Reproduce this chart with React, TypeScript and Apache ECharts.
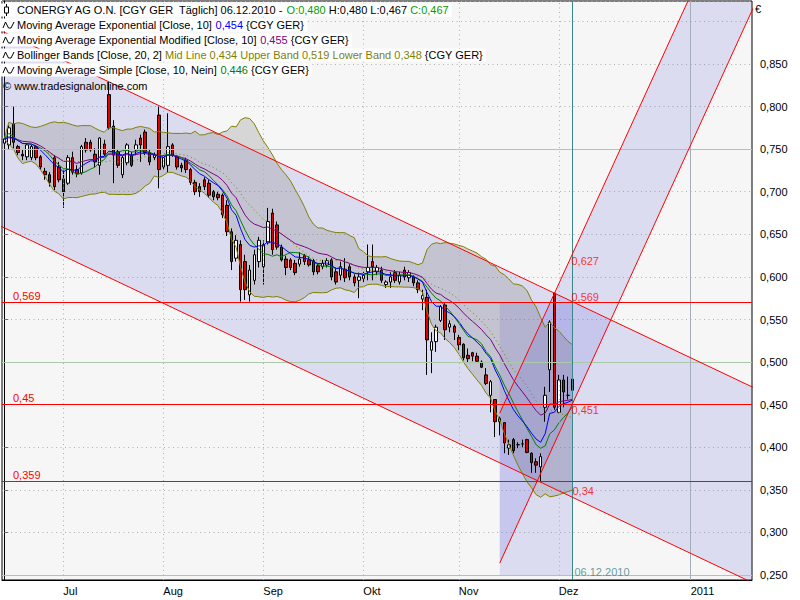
import React, { useEffect, useRef } from "react";
import * as echarts from "echarts";

// ---------------- data ----------------
const FIRST_DAY = "2010-06-14";
const LAST_TRADING_DAY = "2010-12-06";
const AXIS_END_DAY = "2011-01-14";

const openPrices = [
  0.757, 0.755, 0.78, 0.753, 0.744, 0.741, 0.74, 0.753, 0.741, 0.724,
  0.72, 0.74, 0.729, 0.715, 0.71, 0.74, 0.726, 0.722, 0.758, 0.758,
  0.744, 0.731, 0.756, 0.814, 0.777, 0.747, 0.72, 0.734, 0.743, 0.749,
  0.763, 0.77, 0.746, 0.74, 0.79, 0.729, 0.731, 0.755, 0.741, 0.731,
  0.737, 0.726, 0.711, 0.706, 0.714, 0.71, 0.7, 0.697, 0.696, 0.684,
  0.653, 0.622, 0.638, 0.618, 0.579, 0.596, 0.618, 0.612, 0.64, 0.675,
  0.661, 0.635, 0.621, 0.62, 0.616, 0.615, 0.625, 0.62, 0.619, 0.613,
  0.612, 0.614, 0.62, 0.606, 0.602, 0.609, 0.612, 0.6, 0.596, 0.598,
  0.606, 0.618, 0.606, 0.608, 0.591, 0.594, 0.605, 0.594, 0.608, 0.599,
  0.6, 0.593, 0.574, 0.576, 0.514, 0.524, 0.549, 0.567, 0.541, 0.542,
  0.529, 0.521, 0.508, 0.511, 0.507, 0.5, 0.485, 0.461, 0.456, 0.43,
  0.429, 0.399, 0.409, 0.403, 0.404, 0.409, 0.393, 0.383, 0.377, 0.447,
  0.491, 0.581, 0.441, 0.479, 0.461, 0.48,
];
const closePrices = [
  0.762, 0.775, 0.758, 0.746, 0.742, 0.755, 0.753, 0.74, 0.729, 0.72,
  0.711, 0.706, 0.714, 0.7, 0.74, 0.723, 0.721, 0.753, 0.749, 0.749,
  0.735, 0.763, 0.744, 0.775, 0.743, 0.731, 0.74, 0.755, 0.731, 0.755,
  0.755, 0.746, 0.735, 0.743, 0.726, 0.74, 0.753, 0.743, 0.729, 0.728,
  0.726, 0.711, 0.7, 0.7, 0.706, 0.696, 0.694, 0.693, 0.673, 0.653,
  0.618, 0.643, 0.585, 0.585, 0.608, 0.626, 0.643, 0.638, 0.665, 0.632,
  0.635, 0.62, 0.611, 0.611, 0.605, 0.621, 0.618, 0.614, 0.606, 0.606,
  0.616, 0.619, 0.6, 0.594, 0.612, 0.599, 0.6, 0.593, 0.6, 0.602,
  0.611, 0.612, 0.611, 0.596, 0.594, 0.6, 0.596, 0.602, 0.6, 0.605,
  0.593, 0.585, 0.578, 0.526, 0.524, 0.541, 0.565, 0.538, 0.545, 0.535,
  0.52, 0.505, 0.504, 0.507, 0.501, 0.494, 0.475, 0.477, 0.43, 0.434,
  0.405, 0.403, 0.396, 0.403, 0.404, 0.394, 0.382, 0.379, 0.389, 0.461,
  0.547, 0.447, 0.479, 0.465, 0.461, 0.467,
];
const highPrices = [
  0.767, 0.778, 0.8, 0.755, 0.749, 0.757, 0.755, 0.755, 0.743, 0.728,
  0.723, 0.743, 0.735, 0.726, 0.743, 0.747, 0.731, 0.755, 0.763, 0.761,
  0.751, 0.764, 0.761, 0.829, 0.784, 0.749, 0.742, 0.757, 0.747, 0.761,
  0.767, 0.773, 0.749, 0.746, 0.8, 0.743, 0.792, 0.757, 0.743, 0.734,
  0.74, 0.728, 0.714, 0.71, 0.717, 0.714, 0.702, 0.7, 0.698, 0.69,
  0.657, 0.649, 0.643, 0.626, 0.614, 0.632, 0.647, 0.643, 0.681, 0.68,
  0.665, 0.638, 0.625, 0.622, 0.62, 0.629, 0.627, 0.624, 0.621, 0.616,
  0.62, 0.622, 0.622, 0.611, 0.618, 0.622, 0.615, 0.603, 0.605, 0.606,
  0.638, 0.638, 0.614, 0.612, 0.596, 0.606, 0.608, 0.606, 0.612, 0.608,
  0.602, 0.596, 0.585, 0.585, 0.535, 0.544, 0.567, 0.569, 0.549, 0.544,
  0.532, 0.522, 0.516, 0.512, 0.511, 0.502, 0.493, 0.479, 0.456, 0.436,
  0.429, 0.409, 0.411, 0.406, 0.409, 0.41, 0.394, 0.387, 0.393, 0.471,
  0.549, 0.581, 0.485, 0.485, 0.483, 0.48,
];
const lowPrices = [
  0.751, 0.749, 0.751, 0.743, 0.737, 0.737, 0.737, 0.737, 0.726, 0.714,
  0.706, 0.702, 0.711, 0.681, 0.708, 0.72, 0.717, 0.72, 0.746, 0.747,
  0.729, 0.72, 0.742, 0.773, 0.71, 0.728, 0.716, 0.731, 0.729, 0.743,
  0.735, 0.743, 0.731, 0.737, 0.704, 0.726, 0.722, 0.741, 0.726, 0.723,
  0.722, 0.708, 0.696, 0.694, 0.702, 0.693, 0.69, 0.69, 0.669, 0.648,
  0.608, 0.618, 0.571, 0.573, 0.571, 0.591, 0.611, 0.591, 0.638, 0.626,
  0.632, 0.618, 0.602, 0.608, 0.602, 0.612, 0.614, 0.612, 0.602, 0.603,
  0.609, 0.611, 0.596, 0.591, 0.596, 0.594, 0.596, 0.589, 0.575, 0.594,
  0.596, 0.596, 0.602, 0.593, 0.587, 0.587, 0.593, 0.591, 0.596, 0.594,
  0.589, 0.581, 0.561, 0.485, 0.487, 0.512, 0.547, 0.526, 0.535, 0.526,
  0.514, 0.502, 0.5, 0.501, 0.5, 0.493, 0.473, 0.441, 0.412, 0.414,
  0.393, 0.391, 0.393, 0.399, 0.4, 0.393, 0.37, 0.37, 0.359, 0.43,
  0.465, 0.444, 0.44, 0.447, 0.456, 0.467,
];

const monthTicks: [string, string][] = [
  ["2010-07-01", "Jul"],
  ["2010-08-02", "Aug"],
  ["2010-09-01", "Sep"],
  ["2010-10-01", "Okt"],
  ["2010-11-01", "Nov"],
  ["2010-12-01", "Dez"],
];
const yearTick: [string, string] = ["2011-01-01", "2011"];

const yAxisMin = 0.2442;
const yAxisMax = 0.9239;
const yLabelMax = 0.85;
const horizontalLevels = [0.569, 0.45, 0.359];
const majorLevels = [0.25, 0.5, 0.75];

const downChannelTop: [string, number][] = [["2010-07-15", 0.829], ["2010-11-30", 0.581]];
const downChannelBottomAnchor: [string, number] = ["2010-11-25", 0.359];
const upChannelLeft: [string, number][] = [["2010-11-12", 0.44], ["2010-12-06", 0.627]];
const upChannelRight: [string, number][] = [["2010-11-12", 0.264], ["2010-12-06", 0.451]];
const boxFrom = "2010-11-12";
const boxTo = "2010-12-06";
const boxTop = 0.569;
const boxBottom = 0.25;
const trendValueLabels = [0.627, 0.569, 0.451, 0.34];
const currentDateLabel = "06.12.2010";

const titleText = "CONERGY AG O.N. [CGY GER  Täglich] 06.12.2010 - ";
const ohlcOpen = "O:0,480";
const ohlcMid = " H:0,480 L:0,467 ";
const ohlcClose = "C:0,467";
const emaValueText = "0,454";
const emaModValueText = "0,455";
const bbValueText = "Mid Line 0,434 Upper Band 0,519 Lower Band 0,348";
const smaValueText = "0,446";

// ---------------- helpers ----------------
const FONT = '"Liberation Sans", Arial, sans-serif';
const iso = (d: Date) => d.toISOString().slice(0, 10);

function buildCategories(): string[] {
  const out: string[] = [];
  const d = new Date(FIRST_DAY + "T00:00:00Z");
  const last = new Date(LAST_TRADING_DAY + "T00:00:00Z").getTime();
  const end = new Date(AXIS_END_DAY + "T00:00:00Z").getTime();
  while (d.getTime() <= end) {
    const wd = d.getUTCDay();
    if (d.getTime() > last || (wd !== 0 && wd !== 6)) out.push(iso(d));
    d.setUTCDate(d.getUTCDate() + 1);
  }
  return out;
}

const categories = buildCategories();
const idxOf = (date: string) => categories.indexOf(date);

function movingAverage(arr: number[], n: number) {
  return arr.map((_, i) => {
    const w = arr.slice(Math.max(0, i - n + 1), i + 1);
    return w.reduce((a, b) => a + b, 0) / w.length;
  });
}
function expAverage(arr: number[], alpha: number) {
  let e = arr[0];
  return arr.map((v, i) => {
    e = i === 0 ? v : e + alpha * (v - e);
    return e;
  });
}
function bollinger(arr: number[], n: number, k: number) {
  const mid = movingAverage(arr, n);
  const sd = arr.map((_, i) => {
    const w = arr.slice(Math.max(0, i - n + 1), i + 1);
    const m = mid[i];
    return Math.sqrt(w.reduce((a, b) => a + (b - m) * (b - m), 0) / w.length);
  });
  return {
    mid,
    upper: mid.map((m, i) => m + k * sd[i]),
    lower: mid.map((m, i) => m - k * sd[i]),
  };
}
const fmtComma = (v: number) => String(+v.toFixed(3)).replace(".", ",");

const App: React.FC = () => {
  const ref = useRef<HTMLDivElement>(null);

  useEffect(() => {
    if (!ref.current) return;
    const chart = echarts.init(ref.current, undefined, { renderer: "svg" });

    const candleData = openPrices.map((o, i) => [o, closePrices[i], lowPrices[i], highPrices[i]]);
    const ema10 = expAverage(closePrices, 2 / 11);
    const emaMod10 = expAverage(closePrices, 1 / 10);
    const sma10 = movingAverage(closePrices, 10);
    const bb = bollinger(closePrices, 20, 2);

    const tickMap: Record<number, string> = {};
    monthTicks.forEach(([d, l]) => (tickMap[idxOf(d)] = l));
    tickMap[idxOf(yearTick[0])] = yearTick[1];

    // trend line geometry from the anchors
    const dt0 = idxOf(downChannelTop[0][0]);
    const dt1 = idxOf(downChannelTop[1][0]);
    const dSlope = (downChannelTop[1][1] - downChannelTop[0][1]) / (dt1 - dt0);
    const dTop = (x: number) => downChannelTop[0][1] + dSlope * (x - dt0);
    const dbI = idxOf(downChannelBottomAnchor[0]);
    const dBot = (x: number) => downChannelBottomAnchor[1] + dSlope * (x - dbI);

    const ul0 = idxOf(upChannelLeft[0][0]);
    const ul1 = idxOf(upChannelLeft[1][0]);
    const uSlope = (upChannelLeft[1][1] - upChannelLeft[0][1]) / (ul1 - ul0);
    const uLeft = (x: number) => upChannelLeft[0][1] + uSlope * (x - ul0);
    const ur0 = idxOf(upChannelRight[0][0]);
    const uRight = (x: number) => upChannelRight[0][1] + uSlope * (x - ur0);

    const xFar0 = -10;
    const xFar1 = categories.length + 10;
    const lastIdx = idxOf(LAST_TRADING_DAY);
    const yearIdx = idxOf(yearTick[0]);

    const polygon = (name: string, pts: number[][], fill: string, z: number) => ({
      type: "custom",
      name,
      xAxisIndex: 1,
      yAxisIndex: 0,
      clip: true,
      silent: true,
      z,
      data: [[pts[0][0], pts[0][1]]],
      renderItem: (_p: any, api: any) => ({
        type: "polygon",
        shape: { points: pts.map((p) => api.coord(p)) },
        style: { fill, stroke: "none" },
      }),
    });

    const lav = "rgba(92,92,222,0.17)";
    const bandPts: number[][] = [];
    bb.upper.forEach((v, i) => bandPts.push([i, v]));
    for (let i = bb.lower.length - 1; i >= 0; i--) bandPts.push([i, bb.lower[i]]);

    const redLine = (name: string, pts: number[][], extra: any = {}) => ({
      type: "line",
      name,
      xAxisIndex: 1,
      yAxisIndex: 0,
      data: pts,
      symbol: "none",
      silent: true,
      z: 6,
      lineStyle: { color: "#ff0000", width: 1 },
      ...extra,
    });

    const labelPos: Record<string, number[]> = {
      "0.627": [-1, 7],
      "0.569": [-1, -6],
      "0.451": [-1, 6],
      "0.34": [0, -7],
    };

    const option: any = {
      animation: false,
      backgroundColor: "#ffffff",
      textStyle: { fontFamily: FONT },
      grid: {
        left: 2,
        right: 48,
        top: 1,
        bottom: 20,
        show: true,
        backgroundColor: "#f6f6f6",
        borderColor: "#000",
        borderWidth: 1,
      },
      xAxis: [
        {
          type: "category",
          data: categories,
          boundaryGap: true,
          axisLine: { lineStyle: { color: "#000" } },
          axisTick: {
            alignWithLabel: true,
            interval: (i: number) => tickMap[i] !== undefined,
            length: 4,
            lineStyle: { color: "#555" },
          },
          axisLabel: {
            interval: (i: number) => tickMap[i] !== undefined,
            formatter: (_v: string, i: number) => tickMap[i] || "",
            align: "left",
            margin: 5,
            color: "#000",
            fontSize: 11,
            fontFamily: FONT,
          },
          splitLine: { show: false },
        },
        {
          type: "value",
          min: -0.5,
          max: categories.length - 0.5,
          show: false,
        },
      ],
      yAxis: {
        type: "value",
        position: "right",
        min: yAxisMin,
        max: yAxisMax,
        splitNumber: 13,
        axisLine: { show: true, lineStyle: { color: "#000" } },
        axisTick: { show: true, length: 4, lineStyle: { color: "#707070" } },
        axisLabel: {
          formatter: (v: number) => (v > yLabelMax + 0.001 ? "" : v.toFixed(3).replace(".", ",")),
          showMinLabel: false,
          showMaxLabel: false,
          margin: 8,
          color: "#000",
          fontSize: 11,
          fontFamily: FONT,
        },
        splitLine: { show: true, lineStyle: { color: "#b0b0b0", type: [1, 3.5], width: 1 } },
      },
      series: [
        polygon(
          "downChannel",
          [[xFar0, dTop(xFar0)], [xFar1, dTop(xFar1)], [xFar1, dBot(xFar1)], [xFar0, dBot(xFar0)]],
          lav,
          1
        ),
        polygon(
          "upChannel",
          [[ul0, uLeft(ul0)], [xFar1, uLeft(xFar1)], [xFar1, uRight(xFar1)], [ur0, uRight(ur0)]],
          lav,
          1
        ),
        polygon(
          "box",
          [[idxOf(boxFrom), boxTop], [idxOf(boxTo), boxTop], [idxOf(boxTo), boxBottom], [idxOf(boxFrom), boxBottom]],
          lav,
          1
        ),
        polygon("bollingerFill", bandPts, "rgba(120,120,120,0.25)", 1),
        {
          type: "line",
          name: "gridHelper",
          xAxisIndex: 1,
          yAxisIndex: 0,
          data: [[0, 0.5]],
          symbol: "none",
          lineStyle: { opacity: 0 },
          silent: true,
          z: 2,
          markLine: {
            silent: true,
            symbol: ["none", "none"],
            animation: false,
            label: { show: false },
            data: [
              ...majorLevels.map((v) => ({ yAxis: v, lineStyle: { color: "#a9c9a9", type: "solid", width: 1 } })),
              ...monthTicks.map(([d]) => ({
                xAxis: idxOf(d),
                lineStyle: { color: "#b0b0b0", type: [1, 3.5], width: 1 },
              })),
              { xAxis: yearIdx, lineStyle: { color: "#a4aebb", type: "solid", width: 1 } },
              { xAxis: lastIdx, lineStyle: { color: "#3b8686", type: "solid", width: 1 } },
            ],
          },
        },
        {
          type: "candlestick",
          name: "CONERGY",
          xAxisIndex: 0,
          yAxisIndex: 0,
          data: candleData,
          barWidth: 3,
          z: 3,
          itemStyle: {
            color: "#ffffff",
            color0: "#e00000",
            borderColor: "#000000",
            borderColor0: "#000000",
            borderWidth: 1,
          },
        },
        {
          type: "line", name: "BB upper", data: bb.upper, symbol: "none", z: 4, silent: true,
          lineStyle: { color: "#808000", width: 1 },
        },
        {
          type: "line", name: "BB lower", data: bb.lower, symbol: "none", z: 4, silent: true,
          lineStyle: { color: "#808000", width: 1 },
        },
        {
          type: "line", name: "BB mid", data: bb.mid, symbol: "none", z: 4, silent: true,
          lineStyle: { color: "#808000", width: 1, type: [1, 3] },
        },
        {
          type: "line", name: "EMA mod", data: emaMod10, symbol: "none", z: 4, silent: true,
          lineStyle: { color: "#800080", width: 1 },
        },
        {
          type: "line", name: "SMA", data: sma10, symbol: "none", z: 4, silent: true,
          lineStyle: { color: "#008000", width: 1 },
        },
        {
          type: "line", name: "EMA", data: ema10, symbol: "none", z: 4, silent: true,
          lineStyle: { color: "#0000ff", width: 1 },
        },
        redLine("downTop", [[xFar0, dTop(xFar0)], [xFar1, dTop(xFar1)]], {
          markLine: {
            silent: true,
            symbol: ["none", "none"],
            lineStyle: { color: "#ff0000", type: "solid", width: 1 },
            label: {
              show: true,
              position: "insideStartTop",
              distance: [11, 1],
              color: "#ff0000",
              fontSize: 11,
              fontFamily: FONT,
              formatter: (p: any) => p.name,
            },
            data: horizontalLevels.map((v) => ({ yAxis: v, name: fmtComma(v) })),
          },
        }),
        redLine("downBottom", [[xFar0, dBot(xFar0)], [xFar1, dBot(xFar1)]]),
        redLine("upLeft", [[ul0, uLeft(ul0)], [xFar1, uLeft(xFar1)]]),
        redLine("upRight", [[ur0, uRight(ur0)], [xFar1, uRight(xFar1)]]),
        {
          type: "scatter",
          name: "trendLabels",
          xAxisIndex: 1,
          yAxisIndex: 0,
          symbolSize: 0,
          silent: true,
          z: 7,
          data: [
            ...trendValueLabels.map((v) => ({
              value: [lastIdx, v],
              label: {
                show: true,
                position: labelPos[String(v)],
                align: "left",
                verticalAlign: "middle",
                formatter: fmtComma(v),
                color: "#ff0000",
                fontSize: 11,
                fontFamily: FONT,
              },
            })),
            {
              value: [lastIdx, boxBottom],
              label: {
                show: true,
                position: [2, -3],
                align: "left",
                verticalAlign: "middle",
                formatter: currentDateLabel,
                color: "#3b8686",
                fontSize: 11,
                fontFamily: FONT,
              },
            },
          ],
        },
      ],
      graphic: (() => {
        const els: any[] = [];
        const rowY = [10, 25, 40, 55, 70];
        const base = { fill: "#000", font: `11px ${FONT}`, verticalAlign: "middle" };
        const rich = (c: string) => ({ fill: c, color: c, fontSize: 11, fontFamily: FONT });
        const texts = [
          `${titleText}{g|${ohlcOpen}}${ohlcMid}{g|${ohlcClose}}`,
          `Moving Average Exponential [Close, 10] {b|${emaValueText}} {CGY GER}`,
          `Moving Average Exponential Modified [Close, 10] {p|${emaModValueText}} {CGY GER}`,
          `Bollinger Bands [Close, 20, 2] {o|${bbValueText}} {CGY GER}`,
          `Moving Average Simple [Close, 10, Nein] {s|${smaValueText}} {CGY GER}`,
        ];
        texts.forEach((t, r) => {
          els.push({
            type: "text",
            x: 1,
            y: rowY[r],
            z: 100,
            silent: true,
            style: {
              ...base,
              text: t,
              backgroundColor: "#ffffff",
              padding: [1, 3, 1, 16],
              rich: {
                g: rich("#00a000"),
                b: rich("#0000ff"),
                p: rich("#800080"),
                o: rich("#808000"),
                s: rich("#008000"),
              },
            },
          });
          if (r === 0) {
            els.push({
              type: "line", z: 101, silent: true,
              shape: { x1: 6.5, y1: rowY[r] - 6, x2: 6.5, y2: rowY[r] + 6 },
              style: { stroke: "#000", lineWidth: 1 },
            });
            els.push({
              type: "rect", z: 102, silent: true,
              shape: { x: 4.5, y: rowY[r] - 3, width: 4, height: 6 },
              style: { fill: "#fff", stroke: "#000", lineWidth: 1 },
            });
          } else {
            const c = rowY[r];
            els.push({
              type: "polyline", z: 101, silent: true,
              shape: { points: [[3, c + 3], [5.5, c - 3], [8.5, c + 3], [11, c + 3], [14, c - 3]] },
              style: { stroke: "#000", lineWidth: 1, fill: "none" },
            });
          }
        });
        els.push({
          type: "text", x: 3, y: 86, z: 100, silent: true,
          style: { ...base, text: "© www.tradesignalonline.com" },
        });
        els.push({
          type: "text", x: 755, y: 9, z: 100, silent: true,
          style: { ...base, text: "€" },
        });
        return els;
      })(),
    };

    chart.setOption(option);
    return () => chart.dispose();
  }, []);

  return (
    <div
      ref={ref}
      style={{ position: "absolute", left: 0, top: 0, width: 800, height: 600, background: "#fff" }}
    />
  );
};

export default App;
